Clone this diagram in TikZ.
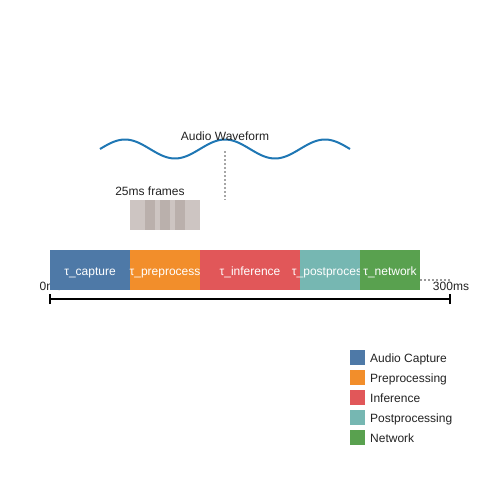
\documentclass[tikz,border=0pt]{standalone}
\usepackage{fontspec}
\setmainfont{Liberation Sans}
\definecolor{cCap}{HTML}{4E79A7}
\definecolor{cPre}{HTML}{F28E2B}
\definecolor{cInf}{HTML}{E15759}
\definecolor{cPost}{HTML}{76B7B2}
\definecolor{cNet}{HTML}{59A14F}
\definecolor{cWave}{HTML}{1F77B4}
\definecolor{cFrame}{HTML}{CDC5C2}
\definecolor{cFrameD}{HTML}{BAB0AC}
\definecolor{cTxt}{HTML}{222222}
\begin{document}
\begin{tikzpicture}[x=1pt,y=-1pt,
  lbl/.style={font=\fontsize{12}{14}\selectfont, text=cTxt, inner sep=0pt, anchor=base},
  bar/.style={fill=#1, draw=none, minimum height=40pt, inner sep=0pt},
  bartxt/.style={text=white, font=\fontsize{12}{14}\selectfont, inner sep=0pt, anchor=base},
  legsq/.style={fill=#1, draw=none, minimum size=15pt, inner sep=0pt},
  legtxt/.style={lbl, anchor=base west}]
\useasboundingbox (0,0) rectangle (500,500);
% waveform
\draw[cWave, line width=2pt] plot[smooth, domain=100:350, samples=120] (\x, {149-9.5*sin(3.6*(\x-100))});
\node[lbl] (wavelbl) at (225,140.5) {Audio Waveform};
\coordinate (wtop) at (225,151);
\coordinate (wbot) at (225,200);
\draw[gray!70, line width=1.2pt, dash pattern=on 2pt off 2pt] (wtop) -- (wbot);
% frames
\node[lbl] (framelbl) at (150,195.5) {25ms frames};
\node[fill=cFrame, minimum width=70pt, minimum height=30pt, inner sep=0pt] (frames) at (165,215) {};
\fill[cFrameD] (145,200) rectangle (155,230);
\fill[cFrameD] (160,200) rectangle (170,230);
\fill[cFrameD] (175,200) rectangle (185,230);
% axis labels
\node[lbl] (zero) at (51,290) {0ms};
% bars
\node[bar=cCap, minimum width=80pt] (cap) at (90,270) {};
\node[bartxt] (capt) at (90,275) {τ\_capture};
\node[bar=cPre, minimum width=70pt] (pre) at (165,270) {};
\node[bartxt] (pret) at (165,275) {τ\_preprocess};
\node[bar=cInf, minimum width=100pt] (inf) at (250,270) {};
\node[bartxt] (inft) at (250,275) {τ\_inference};
\node[bar=cPost, minimum width=60pt] (post) at (330,270) {};
\node[bartxt] (postt) at (330,275) {τ\_postprocess};
\node[bar=cNet, minimum width=60pt] (net) at (390,270) {};
\node[bartxt] (nett) at (390,275) {τ\_network};
\coordinate (dend) at (450,280);
\draw[gray!80, line width=1.2pt, dash pattern=on 2pt off 2pt] (net.east |- dend) -- (dend);
\node[lbl] (end) at (451,290) {300ms};
% axis
\coordinate (a0) at (50,299);
\coordinate (a1) at (450,299);
\draw[black, line width=2pt] (a0) -- (a1);
\draw[black, line width=2pt] ([yshift=-5pt]a0) -- ([yshift=5pt]a0);
\draw[black, line width=2pt] ([yshift=-5pt]a1) -- ([yshift=5pt]a1);
% legend
\node[legsq=cCap] (l1) at (357.5,357.5) {};
\node[legsq=cPre] (l2) at (357.5,377.5) {};
\node[legsq=cInf] (l3) at (357.5,397.5) {};
\node[legsq=cPost] (l4) at (357.5,417.5) {};
\node[legsq=cNet] (l5) at (357.5,437.5) {};
\node[legtxt] (t1) at (370,362) {Audio Capture};
\node[legtxt] (t2) at (370,382) {Preprocessing};
\node[legtxt] (t3) at (370,402) {Inference};
\node[legtxt] (t4) at (370,422) {Postprocessing};
\node[legtxt] (t5) at (370,442) {Network};
\end{tikzpicture}
\end{document}
